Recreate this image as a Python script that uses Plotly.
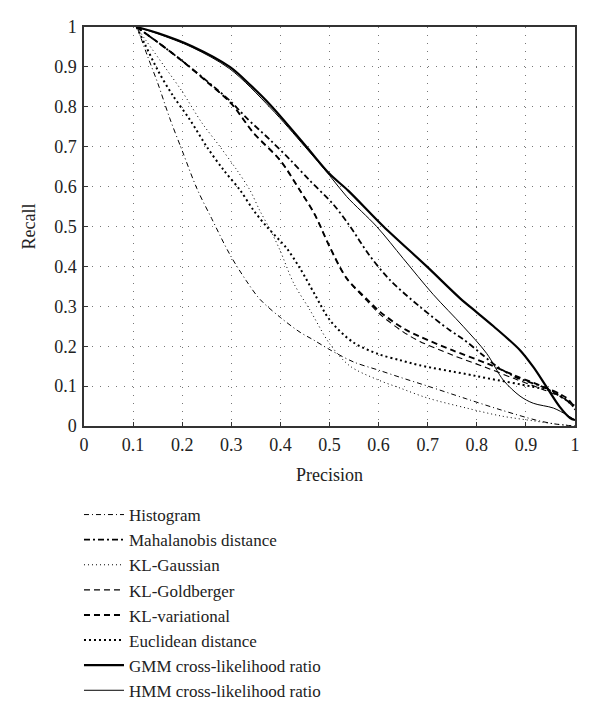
import plotly.graph_objects as go

# precision / recall curves
hist_x = [0.108, 0.13, 0.15, 0.175, 0.2, 0.23, 0.26, 0.297, 0.33, 0.358, 0.4, 0.44, 0.467, 0.501, 0.55, 0.6, 0.644, 0.7, 0.779, 0.85, 0.92, 0.96, 1.0]
hist_y = [1.0, 0.925, 0.86, 0.77, 0.69, 0.595, 0.52, 0.43, 0.365, 0.318, 0.272, 0.235, 0.216, 0.191, 0.16, 0.14, 0.122, 0.1, 0.068, 0.04, 0.015, 0.005, 0.0]

mah_x = [0.107, 0.15, 0.2, 0.25, 0.3, 0.331, 0.379, 0.42, 0.46, 0.508, 0.542, 0.58, 0.623, 0.684, 0.745, 0.772, 0.81, 0.84, 0.88, 0.94, 1.0]
mah_y = [1.0, 0.962, 0.915, 0.865, 0.812, 0.772, 0.717, 0.667, 0.615, 0.555, 0.5, 0.43, 0.366, 0.299, 0.24, 0.218, 0.18, 0.15, 0.122, 0.095, 0.05]

klg_x = [0.107, 0.124, 0.165, 0.199, 0.24, 0.277, 0.311, 0.338, 0.358, 0.38, 0.399, 0.427, 0.46, 0.501, 0.542, 0.6, 0.644, 0.7, 0.779, 0.85, 0.915, 0.96, 1.0]
klg_y = [1.0, 0.97, 0.899, 0.84, 0.76, 0.7, 0.642, 0.591, 0.54, 0.49, 0.441, 0.358, 0.291, 0.205, 0.15, 0.115, 0.095, 0.07, 0.045, 0.025, 0.013, 0.005, 0.0]

gold_x = [0.107, 0.15, 0.2, 0.25, 0.3, 0.345, 0.4, 0.44, 0.47, 0.5, 0.535, 0.576, 0.603, 0.65, 0.684, 0.75, 0.82, 0.88, 0.942, 0.983, 1.0]
gold_y = [1.0, 0.962, 0.915, 0.863, 0.808, 0.735, 0.665, 0.59, 0.53, 0.45, 0.37, 0.314, 0.28, 0.236, 0.212, 0.178, 0.146, 0.117, 0.088, 0.065, 0.04]

var_x = [0.107, 0.15, 0.2, 0.25, 0.3, 0.345, 0.4, 0.44, 0.47, 0.5, 0.535, 0.576, 0.603, 0.65, 0.684, 0.75, 0.82, 0.88, 0.942, 0.983, 1.0]
var_y = [1.0, 0.962, 0.915, 0.863, 0.808, 0.735, 0.665, 0.59, 0.53, 0.45, 0.37, 0.318, 0.286, 0.245, 0.224, 0.19, 0.157, 0.125, 0.095, 0.07, 0.045]

euc_x = [0.107, 0.124, 0.151, 0.18, 0.216, 0.25, 0.284, 0.318, 0.345, 0.372, 0.413, 0.44, 0.47, 0.501, 0.548, 0.6, 0.644, 0.684, 0.779, 0.82, 0.915, 0.96, 1.0]
euc_y = [1.0, 0.957, 0.89, 0.83, 0.767, 0.7, 0.642, 0.591, 0.541, 0.5, 0.445, 0.395, 0.33, 0.265, 0.21, 0.18, 0.165, 0.152, 0.13, 0.12, 0.098, 0.085, 0.045]

gmm_x = [0.107, 0.15, 0.22, 0.297, 0.34, 0.38, 0.453, 0.5, 0.538, 0.61, 0.698, 0.766, 0.8, 0.834, 0.888, 0.915, 0.942, 0.969, 0.99, 1.0]
gmm_y = [1.0, 0.985, 0.952, 0.9, 0.853, 0.804, 0.7, 0.632, 0.59, 0.5, 0.4, 0.32, 0.285, 0.25, 0.19, 0.148, 0.098, 0.048, 0.02, 0.015]

hmm_x = [0.107, 0.15, 0.22, 0.297, 0.38, 0.45, 0.5, 0.535, 0.596, 0.65, 0.711, 0.772, 0.82, 0.854, 0.888, 0.915, 0.956, 0.983, 1.0]
hmm_y = [1.0, 0.983, 0.949, 0.895, 0.797, 0.7, 0.628, 0.575, 0.5, 0.42, 0.33, 0.25, 0.182, 0.115, 0.075, 0.057, 0.045, 0.028, 0.015]

series = [
    ("Histogram", hist_x, hist_y, 1.0, "5px,3px,1px,3px"),
    ("Mahalanobis distance", mah_x, mah_y, 1.8, "6px,3px,2px,3px"),
    ("KL-Gaussian", klg_x, klg_y, 1.0, "1px,3px"),
    ("KL-Goldberger", gold_x, gold_y, 1.1, "6px,4px"),
    ("KL-variational", var_x, var_y, 1.9, "6px,4px"),
    ("Euclidean distance", euc_x, euc_y, 2.0, "2px,3px"),
    ("GMM cross-likelihood ratio", gmm_x, gmm_y, 2.2, "solid"),
    ("HMM cross-likelihood ratio", hmm_x, hmm_y, 1.0, "solid"),
]

fig = go.Figure()
for name, xs, ys, w, dash in series:
    fig.add_trace(go.Scatter(
        x=xs, y=ys, name=name, mode="lines",
        line=dict(color="black", width=w, dash=dash, shape="spline", smoothing=0.9),
    ))

serif = "Liberation Serif"
axis_common = dict(
    range=[0, 1], dtick=0.1, showline=True, linecolor="#333", linewidth=1.5,
    mirror=True, ticks="inside", ticklen=4, tickcolor="#333",
    showgrid=True, gridcolor="#777", gridwidth=1, griddash="1px,7px",
    zeroline=False, tickfont=dict(family=serif, size=18, color="#222"),
    ticklabelstandoff=2, automargin=False,
)
fig.update_xaxes(**axis_common, title=dict(text="Precision", font=dict(family=serif, size=18, color="#222"), standoff=14))
fig.update_yaxes(**axis_common, title=dict(text="Recall", font=dict(family=serif, size=18, color="#222"), standoff=14))

# the page body adds an 8px offset, so the figure is sized to fit the window
fig.update_layout(
    width=592, height=708,
    margin=dict(l=76, r=25, t=19, b=290, autoexpand=False),
    plot_bgcolor="white", paper_bgcolor="white",
    font=dict(family=serif, color="#222"),
    legend=dict(
        x=-0.0102, y=-0.178, xanchor="left", yanchor="top",
        font=dict(family=serif, size=17, color="#222"),
        bgcolor="rgba(0,0,0,0)", itemwidth=40,
    ),
)

fig.write_html("out.html")
